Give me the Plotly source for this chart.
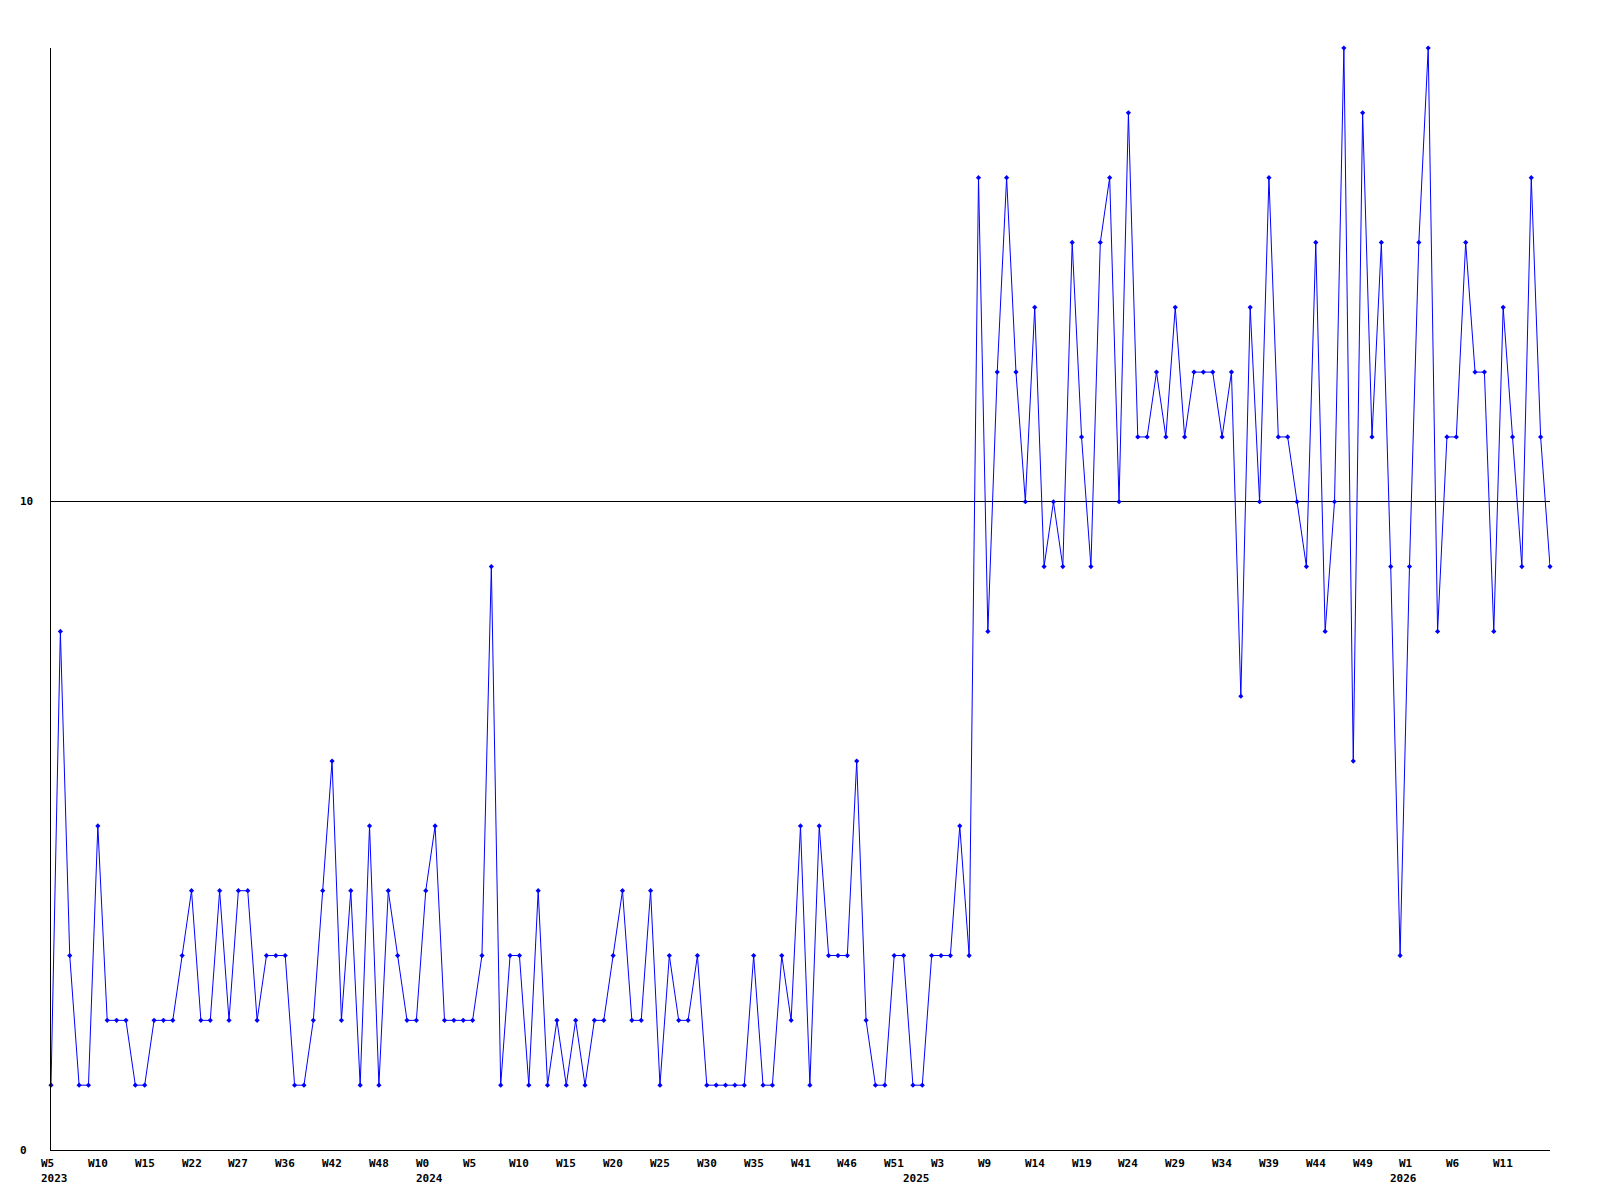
import plotly.graph_objects as go

# --- data -------------------------------------------------------------
values = [
    1, 8, 3, 1, 1, 5, 2, 2, 2, 1, 1, 2, 2, 2, 3, 4, 2, 2, 4, 2, 4,
    4, 2, 3, 3, 3, 1, 1, 2, 4, 6, 2, 4, 1, 5, 1, 4, 3, 2, 2, 4,
    5, 2, 2, 2, 2, 3, 9, 1, 3, 3, 1, 4, 1, 2, 1, 2, 1, 2, 2, 3,
    4, 2, 2, 4, 1, 3, 2, 2, 3, 1, 1, 1, 1, 1, 3, 1, 1, 3, 2, 5,
    1, 5, 3, 3, 3, 6, 2, 1, 1, 3, 3, 1, 1, 3, 3, 3, 5, 3, 15, 8,
    12, 15, 12, 10, 13, 9, 10, 9, 14, 11, 9, 14, 15, 10, 16, 11, 11, 12, 11, 13,
    11, 12, 12, 12, 11, 12, 7, 13, 10, 15, 11, 11, 10, 9, 14, 8, 10, 17, 6, 16,
    11, 14, 9, 3, 9, 14, 17, 8, 11, 11, 14, 12, 12, 8, 13, 11, 9, 15, 11, 9,
]
week_labels = ["W5", "W10", "W15", "W22", "W27", "W36", "W42", "W48",
               "W0", "W5", "W10", "W15", "W20", "W25", "W30", "W35",
               "W41", "W46", "W51", "W3", "W9", "W14", "W19", "W24",
               "W29", "W34", "W39", "W44", "W49", "W1", "W6", "W11"]
week_label_step = 5
year_labels = ["2023", "2024", "2025", "2026"]
year_label_pos = [0, 40, 92, 144]
y_tick_vals = [0, 10]
y_max = 17

x = list(range(len(values)))

FONT = dict(family="DejaVu Sans Mono", size=11, color="black", weight="bold")

fig = go.Figure()
fig.add_trace(go.Scatter(
    x=x, y=values, mode="lines+markers",
    line=dict(color="#0000ff", width=1),
    marker=dict(symbol="diamond", size=4, color="#0000ff"),
    hoverinfo="skip", showlegend=False, cliponaxis=False,
))

annotations = []
for i, lab in enumerate(week_labels):
    annotations.append(dict(
        x=i * week_label_step, y=0, xref="x", yref="paper",
        text=lab, showarrow=False, xanchor="left", yanchor="middle",
        xshift=-11, yshift=-13, font=FONT, borderpad=0,
    ))
for lab, pos in zip(year_labels, year_label_pos):
    annotations.append(dict(
        x=pos, y=0, xref="x", yref="paper",
        text=lab, showarrow=False, xanchor="left", yanchor="middle",
        xshift=-11, yshift=-28, font=FONT, borderpad=0,
    ))
for v in y_tick_vals:
    annotations.append(dict(
        x=0, y=v, xref="paper", yref="y",
        text=str(v), showarrow=False, xanchor="left", yanchor="middle",
        xshift=-32, font=FONT, borderpad=0,
    ))

fig.update_layout(
    width=1600, height=1200,
    margin=dict(l=51, r=50, t=48, b=50, pad=0),
    paper_bgcolor="white", plot_bgcolor="white",
    annotations=annotations,
    xaxis=dict(range=[0, len(values) - 1], showgrid=False, zeroline=False,
               showline=True, linecolor="black", linewidth=1,
               showticklabels=False, ticks=""),
    yaxis=dict(range=[0, y_max], tickvals=[10], showgrid=True,
               gridcolor="black", gridwidth=1, zeroline=False,
               showline=True, linecolor="black", linewidth=1,
               showticklabels=False, ticks=""),
)

fig.write_html("out.html", config={"displayModeBar": False},
               post_script="document.body.style.margin='0';document.body.style.overflow='hidden';")
